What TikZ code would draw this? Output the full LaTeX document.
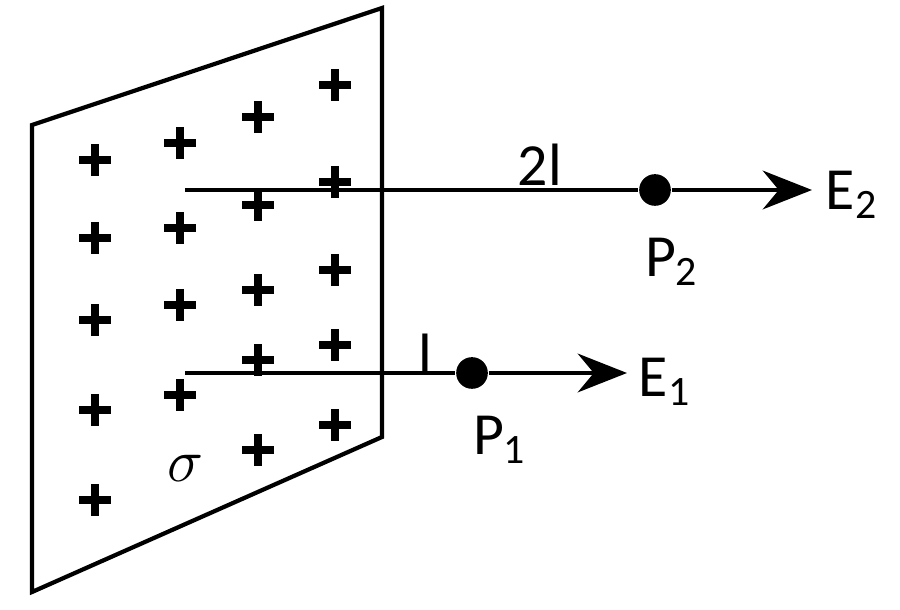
\documentclass[tikz,border=0pt]{standalone}
\usepackage{fontspec}
\setmainfont{Carlito}
\usetikzlibrary{arrows.meta}
\begin{document}
\begin{tikzpicture}[x=0.01cm,y=-0.01cm,
  pl/.style={line width=2pt},
  lbl/.style={font=\fontsize{17}{19}\selectfont},
  ar/.style={line width=1.2pt,-{Stealth[length=14pt,width=11pt]}},
  dot/.style={circle,fill=black,inner sep=0pt,minimum size=9pt}]
\useasboundingbox (0,0) rectangle (900,610);
\draw[line width=1.2pt] (32,125) -- (382,8) -- (382,437) -- (32,592) -- cycle;
\foreach \x/\y in {95/160,95/238,95/320,95/410,95/500,
  180/143,180/228,180/305,180/395,
  258/117,258/205,258/290,258/360,258/450,
  335/85,335/182,335/270,335/345,335/425}
  \draw[pl] (\x-16,\y) -- (\x+16,\y) (\x,\y-16) -- (\x,\y+16);
\node[lbl] (s) at (185,468) {$\sigma$};
\coordinate (a2) at (185,190);
\node[dot] (p2) at (655,190) {};
\coordinate (e2end) at (812,190);
\draw[line width=1.2pt] (a2) -- (p2);
\draw[ar] (p2) -- (e2end);
\node[lbl] at (540,165) {2l};
\node[lbl] at (672,262) {P\textsubscript{2}};
\node[lbl] at (852,195) {E\textsubscript{2}};
\coordinate (a1) at (185,373);
\node[dot] (p1) at (472,373) {};
\coordinate (e1end) at (627,373);
\draw[line width=1.2pt] (a1) -- (p1);
\draw[ar] (p1) -- (e1end);
\node[lbl] at (425,355) {l};
\node[lbl] at (500,440) {P\textsubscript{1}};
\node[lbl] at (665,382) {E\textsubscript{1}};
\end{tikzpicture}
\end{document}
